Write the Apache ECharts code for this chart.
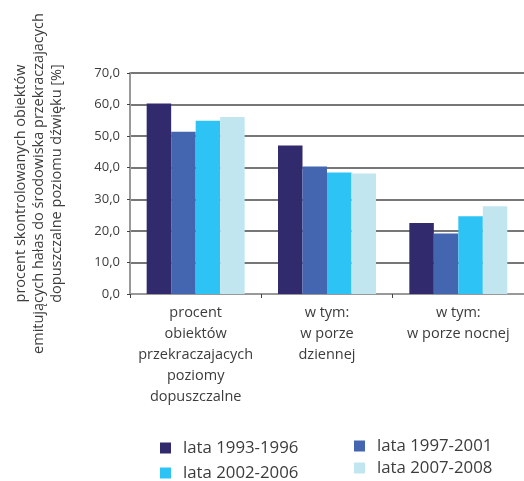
<!DOCTYPE html>
<html>
<head>
<meta charset="utf-8">
<script src="https://cdn.jsdelivr.net/npm/echarts@6/dist/echarts.min.js"></script>
<style>
    html, body {margin: 0; padding: 0; background: #fff;}
    #chart {width: 524px; height: 481px;}
</style>
</head>
<body>
<div id="chart"></div>
<script>
const categories = [
    'procent\nobiektów\nprzekraczajacych\npoziomy\ndopuszczalne',
    'w tym:\nw porze\ndziennej',
    'w tym:\nw porze nocnej',
];
const seriesNames = ['lata 1993-1996', 'lata 1997-2001', 'lata 2002-2006', 'lata 2007-2008'];
const values1993 = [60.3, 47.0, 22.5];
const values1997 = [51.4, 40.4, 19.2];
const values2002 = [54.9, 38.5, 24.6];
const values2007 = [56.1, 38.2, 27.8];
const yTicks = {min: 0, max: 70, interval: 10};
const yName = 'procent skontrolowanych obiektów\nemitujących hałas do środowiska przekraczajacych\ndopuszczalne poziomu dźwięku [%]';

const colors = ['#312a6c', '#4466b0', '#2ec3f5', '#c2e6f0'];
const textColor = '#3c3c3c';
const font = '"Open Sans", "Noto Sans", sans-serif';

// one legend per item so the 2x2 block sits where the original has it
const legendSpots = [[160, 438], [354, 436], [160, 463], [354, 458]];

const chart = echarts.init(document.getElementById('chart'), null, {renderer: 'canvas'});
chart.setOption({
    animation: false,
    color: colors,
    grid: {left: 130, top: 73, width: 403.5, height: 221},
    legend: seriesNames.map((name, i) => ({
        left: legendSpots[i][0],
        top: legendSpots[i][1],
        data: [name],
        itemWidth: 11,
        itemHeight: 11,
        icon: 'rect',
        selectedMode: false,
        padding: 0,
        textStyle: {
            color: textColor,
            fontFamily: font,
            fontSize: 16.8,
            lineHeight: 20,
            padding: [0, 0, 0, 7],
        },
    })),
    xAxis: {
        type: 'category',
        data: categories,
        axisLine: {lineStyle: {color: '#999', width: 2}},
        axisTick: {show: true, length: 4, lineStyle: {color: '#444'}},
        axisLabel: {
            color: textColor,
            fontFamily: font,
            fontSize: 14.5,
            lineHeight: 21,
            margin: 8,
            interval: 0,
        },
    },
    yAxis: {
        type: 'value',
        ...yTicks,
        name: yName,
        nameLocation: 'middle',
        nameGap: 64,
        nameTextStyle: {
            color: textColor,
            fontFamily: font,
            fontSize: 14.5,
            lineHeight: 18,
            align: 'center',
        },
        axisLine: {show: true, lineStyle: {color: '#999', width: 2}},
        axisTick: {show: true, length: 3, lineStyle: {color: '#444'}},
        splitLine: {lineStyle: {color: '#4a4a4a', width: 1.5}},
        axisLabel: {
            color: textColor,
            fontFamily: font,
            fontSize: 13,
            margin: 10,
            formatter: v => v.toFixed(1).replace('.', ','),
        },
    },
    series: [values1993, values1997, values2002, values2007].map((data, i) => ({
        type: 'bar',
        name: seriesNames[i],
        data,
        barWidth: 24.5,
        barGap: '0%',
        z: 3,
    })),
});
</script>
</body>
</html>
